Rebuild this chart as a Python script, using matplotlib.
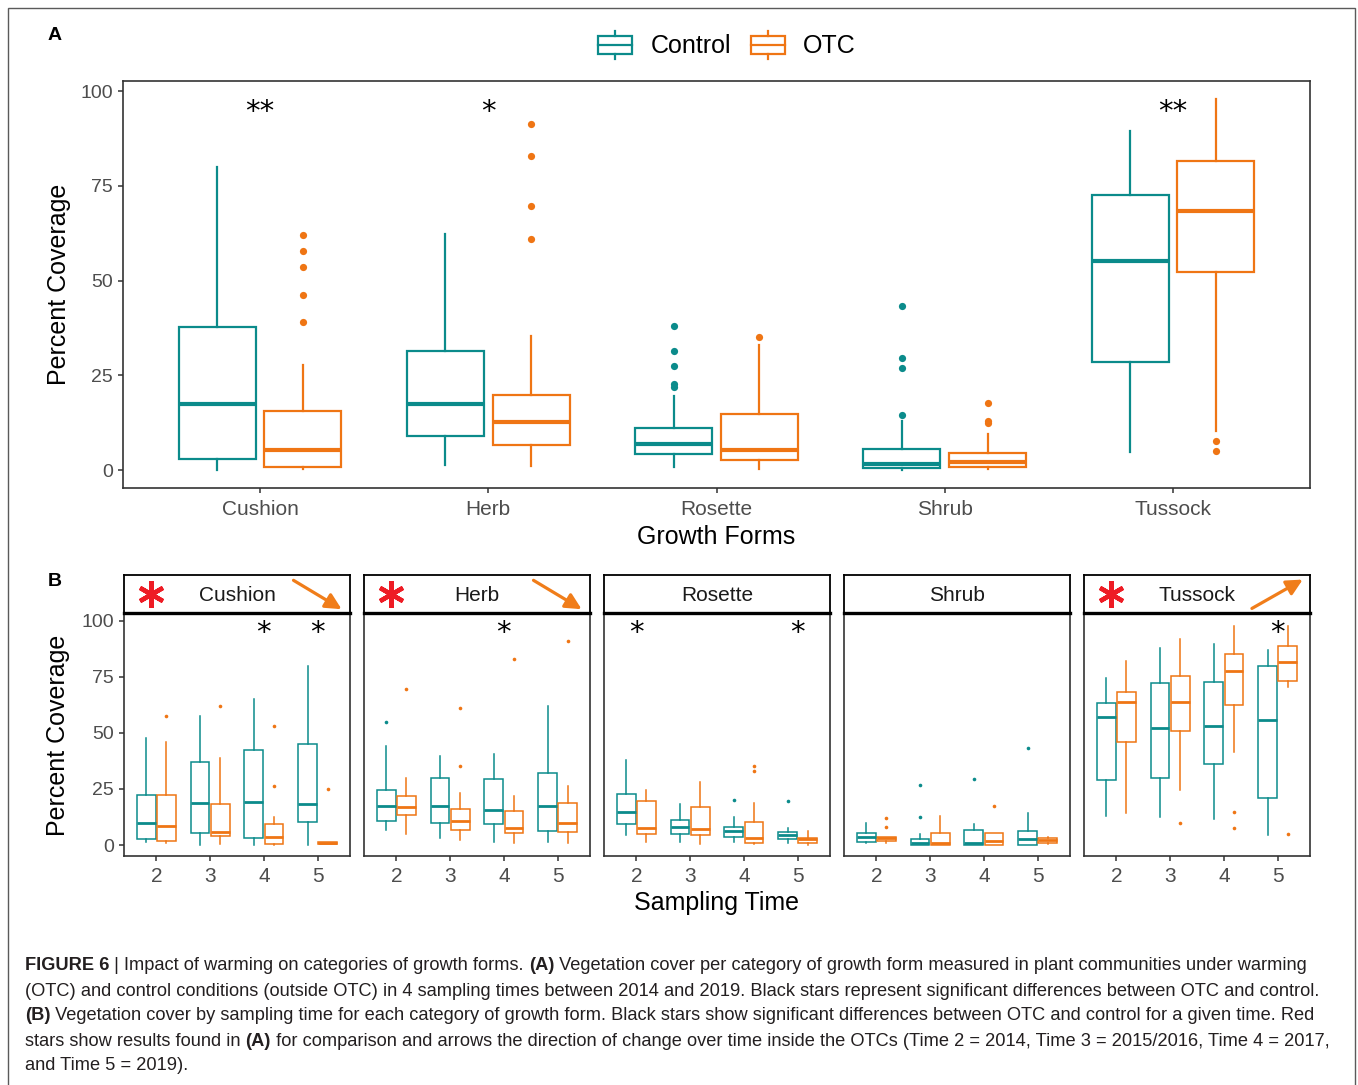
import matplotlib
matplotlib.use("Agg")
import matplotlib.pyplot as plt
from matplotlib.patches import Rectangle
from matplotlib.lines import Line2D
from matplotlib.legend_handler import HandlerBase

plt.rcParams['font.family'] = ['Liberation Sans', 'DejaVu Sans']

W, H = 1358, 1085
CTRL = '#0B8B8B'
OTC = '#EF7514'
GREY = '#4D4D4D'
FRAME = '#333333'

# ---------------- data, panel A ----------------
forms = ['Cushion', 'Herb', 'Rosette', 'Shrub', 'Tussock']
# each row: [whisker low, q1, median, q3, whisker high]
a_ctrl = [[0.0, 2.8, 17.3, 37.7, 80.0],
          [1.3, 8.9, 17.3, 31.4, 62.3],
          [0.9, 4.3, 6.8, 11.0, 19.5],
          [0.0, 0.4, 1.6, 5.5, 12.9],
          [4.7, 28.6, 55.3, 72.6, 89.5]]
a_otc = [[0.2, 0.9, 5.2, 15.6, 27.7],
         [1.1, 6.7, 12.7, 19.7, 35.5],
         [0.3, 2.6, 5.4, 14.9, 32.9],
         [0.3, 0.7, 2.1, 4.5, 9.4],
         [10.3, 52.3, 68.5, 81.7, 97.9]]
a_ctrl_out = [[], [], [38.0, 31.3, 27.4, 22.8, 21.8], [43.2, 29.6, 26.8, 14.4], []]
a_otc_out = [[62.1, 57.8, 53.6, 46.2, 39.1], [91.3, 82.8, 69.6, 61.1], [35.0],
             [17.7, 13.0, 12.3], [7.6, 5.1]]
a_stars = ['**', '*', '', '', '**']

# ---------------- data, panel B ----------------
times = [2, 3, 4, 5]
cushion_ctrl = [[1.2, 2.5, 10.0, 22.1, 47.7], [0.0, 5.2, 18.6, 37.0, 57.7],
                [0.0, 3.3, 19.2, 42.5, 65.1], [0.0, 10.3, 18.1, 45.2, 79.9]]
cushion_otc = [[0.7, 1.8, 8.6, 22.1, 45.9], [0.4, 3.9, 5.9, 18.3, 38.9],
               [0.0, 0.6, 3.7, 9.2, 12.5], [0.3, 0.5, 0.8, 1.2, 1.4]]
cushion_ctrl_out = [[], [], [], []]
cushion_otc_out = [[57.7], [62.0], [53.3, 26.2], [25.1]]

herb_ctrl = [[6.8, 10.7, 17.5, 24.4, 44.3], [3.3, 9.8, 17.2, 30.0, 39.5],
             [1.2, 9.2, 15.6, 29.3, 40.4], [1.2, 6.4, 17.5, 32.1, 62.0]]
herb_otc = [[5.1, 13.4, 16.8, 21.7, 30.0], [2.1, 6.5, 10.8, 16.2, 23.0],
            [0.9, 5.2, 7.7, 15.0, 21.7], [0.7, 5.6, 10.0, 18.7, 26.2]]
herb_ctrl_out = [[55.0], [], [], []]
herb_otc_out = [[69.4], [60.9, 35.4], [82.8], [91.2]]

rosette_ctrl = [[4.6, 9.4, 14.9, 22.6, 37.9], [1.5, 5.1, 8.0, 11.3, 18.3],
                [1.2, 3.7, 6.2, 8.0, 12.5], [0.7, 2.8, 4.3, 5.9, 7.4]]
rosette_otc = [[1.3, 4.8, 7.7, 19.5, 24.5], [0.3, 4.5, 7.1, 16.8, 27.9],
               [0.4, 0.9, 3.0, 10.1, 18.7], [0.1, 0.9, 2.8, 3.3, 6.4]]
rosette_ctrl_out = [[], [], [19.9], [19.5]]
rosette_otc_out = [[], [], [35.1, 32.8], []]

shrub_ctrl = [[0.7, 1.5, 3.7, 5.2, 9.7], [0.0, 0.0, 0.7, 2.8, 4.8],
              [0.0, 0.0, 0.7, 6.5, 9.4], [0.0, 0.1, 2.7, 6.4, 14.3]]
shrub_otc = [[0.7, 1.8, 3.1, 3.6, 3.7], [0.0, 0.0, 0.7, 5.5, 12.8],
             [0.1, 0.1, 1.9, 5.2, 5.2], [0.5, 0.7, 2.2, 3.0, 3.7]]
shrub_ctrl_out = [[], [26.6, 12.6], [29.4], [43.1]]
shrub_otc_out = [[12.2, 8.2], [], [17.5], []]

tussock_ctrl = [[12.9, 28.8, 57.1, 63.2, 74.6], [12.6, 30.0, 52.3, 72.4, 87.7],
                [11.6, 36.0, 53.0, 72.8, 89.5], [4.5, 21.1, 55.7, 79.8, 87.2]]
tussock_otc = [[14.1, 45.8, 63.6, 68.1, 81.9], [24.7, 51.0, 63.6, 75.5, 92.1],
               [41.3, 62.6, 77.7, 85.4, 97.8], [70.3, 73.1, 81.6, 88.9, 97.6]]
tussock_ctrl_out = [[], [], [], []]
tussock_otc_out = [[], [10.0], [14.6, 7.4], [4.8]]

b_sig = [[4, 5], [4], [2, 5], [], [5]]        # black stars (times)
red_star = [True, True, False, False, True]
trend = ['down', 'down', None, None, 'up']

b_data = [(cushion_ctrl, cushion_otc, cushion_ctrl_out, cushion_otc_out),
          (herb_ctrl, herb_otc, herb_ctrl_out, herb_otc_out),
          (rosette_ctrl, rosette_otc, rosette_ctrl_out, rosette_otc_out),
          (shrub_ctrl, shrub_otc, shrub_ctrl_out, shrub_otc_out),
          (tussock_ctrl, tussock_otc, tussock_ctrl_out, tussock_otc_out)]

caption = [
    [('FIGURE 6', True), (' | Impact of warming on categories of growth forms. ', False), ('(A)', True),
     (' Vegetation cover per category of growth form measured in plant communities under warming', False)],
    [('(OTC) and control conditions (outside OTC) in 4 sampling times between 2014 and 2019. '
      'Black stars represent significant differences between OTC and control.', False)],
    [('(B)', True), (' Vegetation cover by sampling time for each category of growth form. Black stars show '
                     'significant differences between OTC and control for a given time. Red', False)],
    [('stars show results found in ', False), ('(A)', True),
     (' for comparison and arrows the direction of change over time inside the OTCs (Time 2 = 2014, '
      'Time 3 = 2015/2016, Time 4 = 2017,', False)],
    [('and Time 5 = 2019).', False)],
]


def px(l, t, r, b):
    return [l / W, 1 - b / H, (r - l) / W, (b - t) / H]


def draw_boxes(ax, pos, stats, outs, color, width, lw, mlw, ms):
    bs = [dict(whislo=s[0], q1=s[1], med=s[2], q3=s[3], whishi=s[4], fliers=o)
          for s, o in zip(stats, outs)]
    ax.bxp(bs, positions=pos, widths=width, patch_artist=True, showcaps=False,
           manage_ticks=False,
           boxprops=dict(facecolor='white', edgecolor=color, linewidth=lw),
           whiskerprops=dict(color=color, linewidth=lw),
           medianprops=dict(color=color, linewidth=mlw, solid_capstyle='butt'),
           flierprops=dict(marker='o', markerfacecolor=color, markeredgecolor='none',
                           markersize=ms))


def style_axes(ax):
    for s in ax.spines.values():
        s.set_color(FRAME)
        s.set_linewidth(1.2)
    ax.tick_params(colors=FRAME, labelcolor=GREY, width=1.1, length=3.8, labelsize=14)


class BoxHandler(HandlerBase):
    def create_artists(self, legend, orig_handle, xdescent, ydescent, width, height, fontsize, trans):
        c = orig_handle.get_color()
        x0, y0 = -xdescent, -ydescent
        box = Rectangle((x0, y0 + 0.17 * height), width, 0.66 * height, facecolor='white',
                        edgecolor=c, lw=1.6, transform=trans)
        med = Line2D([x0, x0 + width], [y0 + 0.5 * height] * 2, color=c, lw=1.6, transform=trans)
        wt = Line2D([x0 + width / 2] * 2, [y0 + 0.83 * height, y0 + height], color=c, lw=1.6,
                    transform=trans)
        wb = Line2D([x0 + width / 2] * 2, [y0, y0 + 0.17 * height], color=c, lw=1.6, transform=trans)
        return [box, med, wt, wb]


fig = plt.figure(figsize=(W / 100, H / 100), dpi=100)

# outer frame
fig.patches.append(Rectangle((8 / W, -0.05), 1347 / W, 1 - 8 / H + 0.05, transform=fig.transFigure,
                             fill=False, edgecolor='#5A5A5A', lw=1.0))

# ---------------- panel A ----------------
axA = fig.add_axes(px(123, 81, 1310, 488))
xs = list(range(1, len(forms) + 1))
draw_boxes(axA, [x - 0.1875 for x in xs], a_ctrl, a_ctrl_out, CTRL, 0.3375, 1.6, 3.0, 5.2)
draw_boxes(axA, [x + 0.1875 for x in xs], a_otc, a_otc_out, OTC, 0.3375, 1.6, 3.0, 5.2)
for x, s in zip(xs, a_stars):
    if s:
        axA.text(x, 94.5, s, ha='center', va='center', fontsize=21, family='DejaVu Sans')
axA.set_xlim(0.4, 5.6)
axA.set_ylim(-4.75, 102.7)
axA.set_xticks(xs)
axA.set_xticklabels(forms)
axA.set_yticks([0, 25, 50, 75, 100])
style_axes(axA)
axA.tick_params(axis='x', labelsize=15, pad=5)
axA.set_xlabel('Growth Forms', fontsize=18, labelpad=4)
axA.set_ylabel('Percent Coverage', fontsize=18, labelpad=7)

fig.text(55 / W, 1 - 35 / H, 'A', fontsize=14, fontweight='bold', ha='center', va='center')
fig.text(55 / W, 1 - 581 / H, 'B', fontsize=14, fontweight='bold', ha='center', va='center')

handles = [Line2D([], [], color=CTRL, label='Control'), Line2D([], [], color=OTC, label='OTC')]
fig.legend(handles=handles, loc='center', bbox_to_anchor=(727 / W, 1 - 45 / H), ncol=2,
           frameon=False, fontsize=18, handlelength=1.36, handleheight=1.36, handletextpad=0.72,
           columnspacing=0.8, borderpad=0, handler_map={Line2D: BoxHandler()})

# ---------------- panel B ----------------
tx = list(range(1, len(times) + 1))
for i, form in enumerate(forms):
    left = 124 + i * 240
    ax = fig.add_axes(px(left, 613, left + 226, 856))
    ctrl, otc, ctrl_out, otc_out = b_data[i]
    draw_boxes(ax, [x - 0.1875 for x in tx], ctrl, ctrl_out, CTRL, 0.35, 1.1, 2.0, 2.6)
    draw_boxes(ax, [x + 0.1875 for x in tx], otc, otc_out, OTC, 0.35, 1.1, 2.0, 2.6)
    for t in b_sig[i]:
        ax.text(times.index(t) + 1, 94.5, '*', ha='center', va='center', fontsize=21,
                family='DejaVu Sans')
    ax.set_xlim(0.4, 4.6)
    ax.set_ylim(-4.9, 103.5)
    ax.set_xticks(tx)
    ax.set_xticklabels([str(t) for t in times])
    ax.set_yticks([0, 25, 50, 75, 100])
    style_axes(ax)
    ax.tick_params(axis='x', labelsize=15, pad=4)
    if i > 0:
        ax.tick_params(axis='y', left=False, labelleft=False)

    st = fig.add_axes(px(left, 575, left + 226, 613))
    st.set_xticks([])
    st.set_yticks([])
    for s in st.spines.values():
        s.set_color('black')
        s.set_linewidth(1.3)
    st.spines['bottom'].set_linewidth(2.4)
    st.set_xlim(0, 1)
    st.set_ylim(0, 1)
    st.text(0.5, 0.47, form, ha='center', va='center', fontsize=15, color='#1A1A1A')
    if red_star[i]:
        st.plot([0.12], [0.5], marker=(6, 2, 0), markersize=19, markeredgewidth=3.2,
                color='#EE1C25', clip_on=False)
    if trend[i] == 'down':
        st.annotate('', xy=(0.963, 0.1), xytext=(0.75, 0.86),
                    arrowprops=dict(arrowstyle='-|>', color='#F07D1A', lw=2.3, mutation_scale=24,
                                    shrinkA=0, shrinkB=0))
    elif trend[i] == 'up':
        st.annotate('', xy=(0.968, 0.88), xytext=(0.743, 0.12),
                    arrowprops=dict(arrowstyle='-|>', color='#F07D1A', lw=2.3, mutation_scale=24,
                                    shrinkA=0, shrinkB=0))

fig.text(58 / W, 1 - 735 / H, 'Percent Coverage', rotation=90, fontsize=18, ha='center',
         va='center')
fig.text(717 / W, 1 - 903 / H, 'Sampling Time', fontsize=18, ha='center', va='center')

# ---------------- caption ----------------
fig.canvas.draw()
rend = fig.canvas.get_renderer()
for k, line in enumerate(caption):
    x = 25 / W
    y = 1 - (966 + 25 * k) / H
    for txt, bold in line:
        t = fig.text(x, y, txt, fontsize=13.15, fontweight='bold' if bold else 'normal',
                     color='#231F20', va='center', ha='left')
        x += t.get_window_extent(renderer=rend).width / W

fig.savefig('out.png', dpi=100)
